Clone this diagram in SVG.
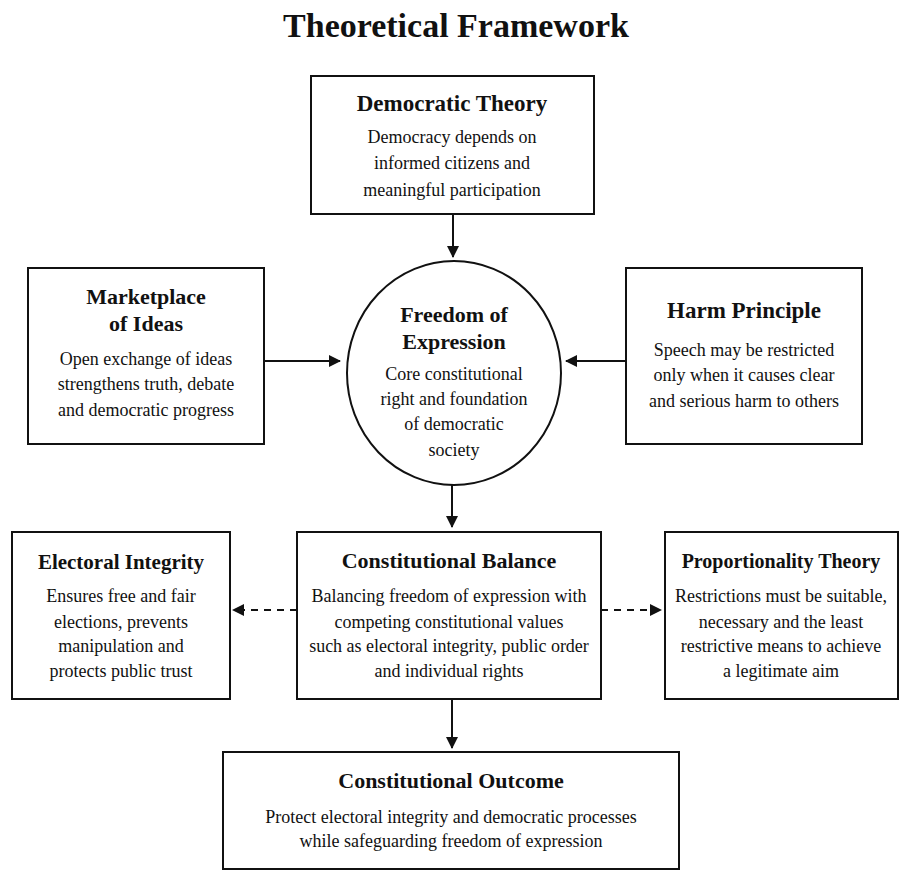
<svg xmlns="http://www.w3.org/2000/svg" width="911" height="878" viewBox="0 0 911 878">
<defs>
<marker id="ah" viewBox="0 0 12 12" refX="11" refY="6" markerWidth="12" markerHeight="12" markerUnits="userSpaceOnUse" orient="auto">
<path d="M0,0 L12,6 L0,12 Z" fill="#111"/>
</marker>
</defs>
<style>
.box{fill:#fff;stroke:#111;stroke-width:2}
.t{font-family:"Liberation Serif","Times New Roman",serif;font-weight:bold;font-size:22px;fill:#111;text-anchor:middle}
.b{font-family:"Liberation Serif","Times New Roman",serif;font-size:18px;fill:#111;text-anchor:middle}
.ttl{font-family:"Liberation Serif","Times New Roman",serif;font-weight:bold;font-size:34px;fill:#111;text-anchor:middle}
.c{stroke:#111;stroke-width:2;fill:none}
.d{stroke-dasharray:7,6}
</style>
<rect width="911" height="878" fill="#fff"/>
<text class="ttl" x="456" y="37">Theoretical Framework</text>

<g id="connectors">
<line class="c" x1="453" y1="214" x2="453" y2="257" marker-end="url(#ah)"/>
<line class="c" x1="264" y1="361" x2="340" y2="361" marker-end="url(#ah)"/>
<line class="c" x1="626" y1="361" x2="566" y2="361" marker-end="url(#ah)"/>
<line class="c" x1="452" y1="485" x2="452" y2="527" marker-end="url(#ah)"/>
<line class="c d" x1="297" y1="610" x2="233" y2="610" marker-end="url(#ah)"/>
<line class="c d" x1="601" y1="610" x2="661" y2="610" marker-end="url(#ah)"/>
<line class="c" x1="452" y1="699" x2="452" y2="748" marker-end="url(#ah)"/>
</g>

<g id="democratic-theory">
<rect class="box" x="311" y="76" width="283" height="138"/>
<text class="t" x="452" y="111" style="font-size:23px">Democratic Theory</text>
<text class="b" x="452" y="143">Democracy depends on</text>
<text class="b" x="452" y="169">informed citizens and</text>
<text class="b" x="452" y="196">meaningful participation</text>
</g>

<g id="marketplace-of-ideas">
<rect class="box" x="28" y="268" width="236" height="176"/>
<text class="t" x="146" y="304">Marketplace</text>
<text class="t" x="146" y="331">of Ideas</text>
<text class="b" x="146" y="365">Open exchange of ideas</text>
<text class="b" x="146" y="390">strengthens truth, debate</text>
<text class="b" x="146" y="416">and democratic progress</text>
</g>

<g id="freedom-of-expression">
<ellipse class="box" cx="454" cy="373" rx="107" ry="112"/>
<text class="t" x="454" y="322">Freedom of</text>
<text class="t" x="454" y="349">Expression</text>
<text class="b" x="454" y="380">Core constitutional</text>
<text class="b" x="454" y="405">right and foundation</text>
<text class="b" x="454" y="430">of democratic</text>
<text class="b" x="454" y="456">society</text>
</g>

<g id="harm-principle">
<rect class="box" x="626" y="268" width="236" height="176"/>
<text class="t" x="744" y="318" style="font-size:23px">Harm Principle</text>
<text class="b" x="744" y="356">Speech may be restricted</text>
<text class="b" x="744" y="381">only when it causes clear</text>
<text class="b" x="744" y="407">and serious harm to others</text>
</g>

<g id="electoral-integrity">
<rect class="box" x="12" y="532" width="218" height="167"/>
<text class="t" x="121" y="569" style="font-size:21px">Electoral Integrity</text>
<text class="b" x="121" y="602">Ensures free and fair</text>
<text class="b" x="121" y="628">elections, prevents</text>
<text class="b" x="121" y="652">manipulation and</text>
<text class="b" x="121" y="677">protects public trust</text>
</g>

<g id="constitutional-balance">
<rect class="box" x="297" y="532" width="304" height="167"/>
<text class="t" x="449" y="568">Constitutional Balance</text>
<text class="b" x="449" y="602">Balancing freedom of expression with</text>
<text class="b" x="449" y="628">competing constitutional values</text>
<text class="b" x="449" y="652">such as electoral integrity, public order</text>
<text class="b" x="449" y="677">and individual rights</text>
</g>

<g id="proportionality-theory">
<rect class="box" x="665" y="532" width="233" height="167"/>
<text class="t" x="781" y="568" style="font-size:20px">Proportionality Theory</text>
<text class="b" x="781" y="602">Restrictions must be suitable,</text>
<text class="b" x="781" y="628">necessary and the least</text>
<text class="b" x="781" y="652">restrictive means to achieve</text>
<text class="b" x="781" y="677">a legitimate aim</text>
</g>

<g id="constitutional-outcome">
<rect class="box" x="223" y="752" width="456" height="117"/>
<text class="t" x="451" y="788">Constitutional Outcome</text>
<text class="b" x="451" y="823">Protect electoral integrity and democratic processes</text>
<text class="b" x="451" y="847">while safeguarding freedom of expression</text>
</g>
</svg>
